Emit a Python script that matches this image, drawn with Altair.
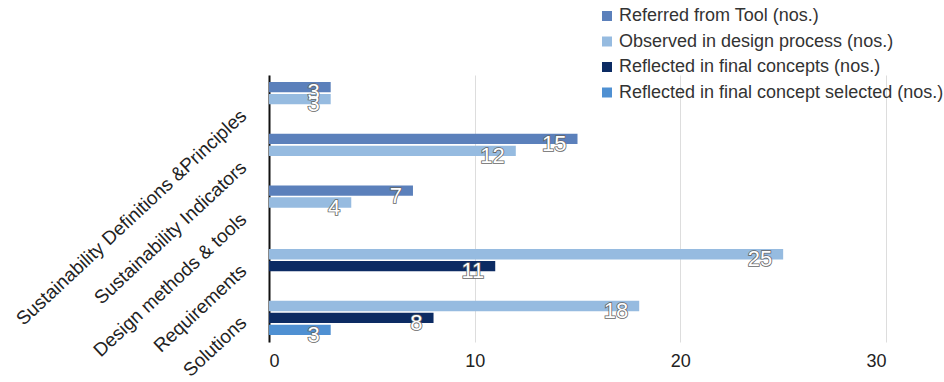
import altair as alt
import pandas as pd

categories = [
    "Sustainability Definitions &Principles",
    "Sustainability Indicators",
    "Design methods & tools",
    "Requirements",
    "Solutions",
]
series = [
    "Referred from Tool (nos.)",
    "Observed in design process (nos.)",
    "Reflected in final concepts (nos.)",
    "Reflected in final concept selected (nos.)",
]
referred = [3, 15, 7, None, None]
observed = [3, 12, 4, 25, 18]
reflected = [None, None, None, 11, 8]
selected = [None, None, None, None, 3]
colors = ["#5b80bb", "#96bbe0", "#0c2b63", "#4f90d2"]
x_ticks = [0, 10, 20, 30]

rows = []
for s, vals in zip(series, [referred, observed, reflected, selected]):
    for c, v in zip(categories, vals):
        if v is not None:
            rows.append({"category": c, "series": s, "value": v})
df = pd.DataFrame(rows)

font = "Liberation Sans"

y_enc = alt.Y(
    "category:N",
    sort=categories,
    scale=alt.Scale(domain=categories, paddingInner=0.11, paddingOuter=0.135),
    axis=alt.Axis(
        title=None,
        labelAngle=-43,
        labelAlign="right",
        labelBaseline="middle",
        labelFontSize=19,
        labelFont=font,
        labelColor="#222222",
        labelPadding=26,
        labelOffset=8,
        labelLimit=500,
        labelOverlap=False,
        ticks=False,
        domain=True,
        domainColor="#111111",
        domainWidth=2,
        grid=False,
    ),
)
yoff_enc = alt.YOffset(
    "series:N", sort=series, scale=alt.Scale(domain=series, paddingInner=0.13)
)
x_enc = alt.X(
    "value:Q",
    scale=alt.Scale(domain=[0, 30], nice=False),
    axis=alt.Axis(
        title=None,
        values=x_ticks,
        labelFontSize=18,
        labelFont=font,
        labelColor="#222222",
        labelPadding=10,
        ticks=False,
        domain=False,
        grid=True,
        gridColor="#dddddd",
        gridWidth=1,
    ),
)

bars = alt.Chart(df).mark_bar().encode(
    y=y_enc,
    yOffset=yoff_enc,
    x=x_enc,
    color=alt.Color(
        "series:N",
        sort=series,
        scale=alt.Scale(domain=series, range=colors),
        legend=alt.Legend(
            title=None,
            orient="none",
            legendX=329,
            legendY=-68,
            symbolType="square",
            symbolSize=100,
            symbolStrokeWidth=0,
            labelFontSize=18,
            labelFont=font,
            labelColor="#333333",
            rowPadding=7.5,
            labelOffset=3,
            labelLimit=400,
        ),
    ),
)

outline = alt.Chart(df).mark_text(
    align="right", baseline="middle", dx=-11, dy=5, fontSize=22, font=font,
    fill="#666666", stroke="#666666", strokeWidth=1.6,
).encode(y=alt.Y("category:N", sort=categories), yOffset=alt.YOffset("series:N", sort=series),
         x="value:Q", text="value:Q")

labels = alt.Chart(df).mark_text(
    align="right", baseline="middle", dx=-11, dy=5, fontSize=22, font=font,
    fill="white",
).encode(y=alt.Y("category:N", sort=categories), yOffset=alt.YOffset("series:N", sort=series),
         x="value:Q", text="value:Q")

chart = (
    alt.layer(bars, outline, labels)
    .properties(
        width=617,
        height=267,
        autosize=alt.AutoSizeParams(type="none"),
        padding={"left": 269, "top": 75, "right": 58, "bottom": 40},
        background="white",
    )
    .configure_view(stroke=None)
)

chart.save("out.html", embed_options={"renderer": "svg", "actions": False})
